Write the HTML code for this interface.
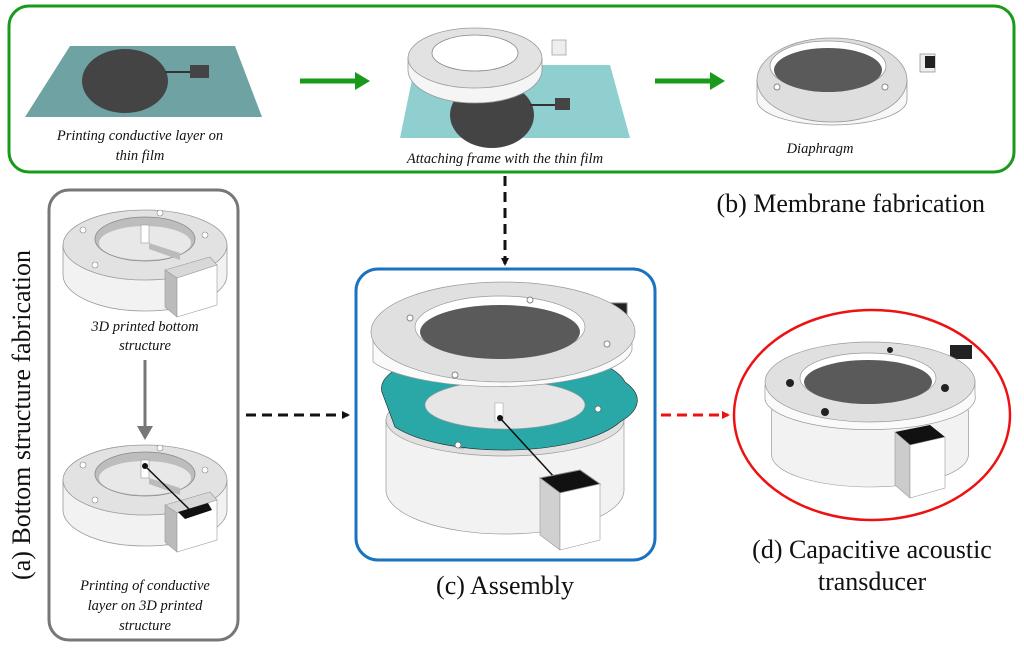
<!DOCTYPE html>
<html><head><meta charset="utf-8"><style>
body{margin:0;background:#fff}
svg{display:block}
text{font-family:"Liberation Serif",serif;fill:#111}
.it{font-style:italic;font-size:14.5px}
.big{font-size:26px}
</style></head><body>
<svg width="1024" height="651" viewBox="0 0 1024 651" xmlns="http://www.w3.org/2000/svg">
<defs>
<marker id="ab" markerWidth="8" markerHeight="8" refX="6" refY="4" orient="auto" markerUnits="userSpaceOnUse"><path d="M0,0 L8,4 L0,8 Z" fill="#111"/></marker>
<marker id="ar" markerWidth="8" markerHeight="8" refX="6" refY="4" orient="auto" markerUnits="userSpaceOnUse"><path d="M0,0 L8,4 L0,8 Z" fill="#e11"/></marker>
<g id="base">
  <path d="M-82,0 L-82,30 A82,36 0 0 0 82,30 L82,0 Z" fill="#f2f2f2" stroke="#999" stroke-width="0.8"/>
  <ellipse cx="0" cy="0" rx="82" ry="35" fill="#e2e2e2" stroke="#999" stroke-width="0.8"/>
  <ellipse cx="0" cy="-6" rx="50" ry="22" fill="#bdbdbd" stroke="#888" stroke-width="0.8"/>
  <ellipse cx="0" cy="-2" rx="46" ry="17" fill="#e8e8e8"/>
  <rect x="-4" y="-20" width="8" height="18" fill="#fff" stroke="#999" stroke-width="0.6"/>
  <polygon points="4,-2 35,8 35,15 4,4" fill="#bbb"/>
  <circle cx="-50" cy="20" r="3" fill="#fff" stroke="#888" stroke-width="0.6"/>
  <circle cx="60" cy="-10" r="3" fill="#fff" stroke="#888" stroke-width="0.6"/>
  <circle cx="-62" cy="-15" r="3" fill="#fff" stroke="#888" stroke-width="0.6"/>
  <circle cx="15" cy="-32" r="3" fill="#fff" stroke="#888" stroke-width="0.6"/>
  <polygon points="20,25 65,12 72,20 32,33" fill="#d8d8d8" stroke="#999" stroke-width="0.6"/>
  <polygon points="20,25 32,33 32,72 20,62" fill="#bbb" stroke="#999" stroke-width="0.6"/>
  <polygon points="32,33 72,20 72,60 32,72" fill="#fff" stroke="#999" stroke-width="0.6"/>
</g>
</defs>

<!-- (b) green box -->
<rect x="9" y="6" width="1005" height="166" rx="20" fill="none" stroke="#1a9a1a" stroke-width="3"/>
<polygon points="70,46 235,46 262,117 25,117" fill="#6fa3a3"/>
<ellipse cx="125" cy="81" rx="43" ry="32" fill="#444"/>
<line x1="165" y1="72" x2="190" y2="72" stroke="#333" stroke-width="2"/>
<rect x="190" y="65" width="19" height="13" fill="#444"/>
<text class="it" x="140" y="140" text-anchor="middle">Printing conductive layer on</text>
<text class="it" x="140" y="160" text-anchor="middle">thin film</text>
<line x1="300" y1="81" x2="358" y2="81" stroke="#1a9a1a" stroke-width="5"/>
<polygon points="355,72 370,81 355,90" fill="#1a9a1a"/>
<polygon points="415,65 610,65 630,138 400,138" fill="#8fcfcf"/>
<ellipse cx="492" cy="115" rx="42" ry="33" fill="#444"/>
<line x1="530" y1="105" x2="555" y2="105" stroke="#333" stroke-width="2"/>
<rect x="555" y="98" width="15" height="12" fill="#444"/>
<rect x="552" y="40" width="14" height="15" fill="#eee" stroke="#999" stroke-width="0.7"/>
<path d="M408,58 L408,70 A67,33 0 0 0 542,70 L542,58 Z" fill="#f5f5f5" stroke="#999" stroke-width="0.8"/>
<ellipse cx="475" cy="58" rx="67" ry="30" fill="#e2e2e2" stroke="#999" stroke-width="0.8"/>
<ellipse cx="475" cy="53" rx="43" ry="18" fill="#fff" stroke="#888" stroke-width="0.8"/>
<text class="it" x="505" y="163" text-anchor="middle">Attaching frame with the thin film</text>
<line x1="655" y1="81" x2="713" y2="81" stroke="#1a9a1a" stroke-width="5"/>
<polygon points="710,72 725,81 710,90" fill="#1a9a1a"/>
<rect x="920" y="54" width="15" height="18" fill="#eee" stroke="#888" stroke-width="0.7"/>
<rect x="925" y="56" width="10" height="12" fill="#222"/>
<path d="M757,80 L757,100 A75,25 0 0 0 907,100 L907,80 Z" fill="#f7f7f7" stroke="#999" stroke-width="0.8"/>
<ellipse cx="832" cy="80" rx="75" ry="42" fill="#dedede" stroke="#999" stroke-width="0.8"/>
<ellipse cx="828" cy="66" rx="58" ry="25" fill="#fff" stroke="#999" stroke-width="0.8"/>
<ellipse cx="828" cy="70" rx="54" ry="22" fill="#5a5a5a"/>
<circle cx="777" cy="87" r="3" fill="#fff" stroke="#888"/>
<circle cx="885" cy="87" r="3" fill="#fff" stroke="#888"/>
<text class="it" x="820" y="153" text-anchor="middle">Diaphragm</text>
<text class="big" x="985" y="212" text-anchor="end">(b) Membrane fabrication</text>

<line x1="505" y1="176" x2="505" y2="264" stroke="#111" stroke-width="3" stroke-dasharray="10,6" marker-end="url(#ab)"/>

<!-- (a) -->
<rect x="49" y="190" width="189" height="450" rx="20" fill="none" stroke="#777" stroke-width="3"/>
<text class="big" transform="translate(30,415) rotate(-90)" text-anchor="middle">(a) Bottom structure  fabrication</text>
<use href="#base" transform="translate(145,245)"/>
<text class="it" x="145" y="331" text-anchor="middle">3D printed bottom</text>
<text class="it" x="145" y="350" text-anchor="middle">structure</text>
<line x1="145" y1="360" x2="145" y2="428" stroke="#777" stroke-width="3"/>
<polygon points="137,426 145,440 153,426" fill="#777"/>
<use href="#base" transform="translate(145,480)"/>
<line x1="145" y1="466" x2="190" y2="510" stroke="#111" stroke-width="1.5"/>
<circle cx="145" cy="466" r="3" fill="#111"/>
<polygon points="178,512 208,503 212,510 185,519" fill="#111"/>
<text class="it" x="145" y="590" text-anchor="middle">Printing of conductive</text>
<text class="it" x="145" y="610" text-anchor="middle">layer on 3D printed</text>
<text class="it" x="145" y="630" text-anchor="middle">structure</text>

<line x1="246" y1="415" x2="348" y2="415" stroke="#111" stroke-width="3" stroke-dasharray="10,6" marker-end="url(#ab)"/>

<!-- (c) -->
<rect x="356" y="269" width="299" height="291" rx="22" fill="none" stroke="#1a72c0" stroke-width="3"/>
<path d="M386,420 L386,490 A119,44 0 0 0 624,490 L624,420 Z" fill="#f2f2f2" stroke="#999" stroke-width="0.7"/>
<ellipse cx="505" cy="420" rx="119" ry="36" fill="#e0e0e0" stroke="#999" stroke-width="0.7"/>
<circle cx="462" cy="446" r="3" fill="#fff" stroke="#888" stroke-width="0.6"/>
<path d="M383,395 A120,40 0 0 1 625,382 A122,42 0 0 1 620,422 A125,45 0 0 1 395,427 Z" fill="#2aa8a8" stroke="#222" stroke-width="0.6"/>
<ellipse cx="505" cy="405" rx="80" ry="24" fill="#e6e6e6" stroke="#999" stroke-width="0.6"/>
<rect x="495" y="403" width="8" height="18" fill="#fff" stroke="#999" stroke-width="0.5"/>
<circle cx="500" cy="418" r="3" fill="#111"/>
<circle cx="458" cy="445" r="3" fill="#fff" stroke="#555" stroke-width="0.6"/>
<circle cx="598" cy="409" r="3" fill="#fff" stroke="#555" stroke-width="0.6"/>
<line x1="500" y1="418" x2="555" y2="478" stroke="#111" stroke-width="1.5"/>
<polygon points="540,478 580,470 600,484 560,493" fill="#111" stroke="#888"/>
<polygon points="540,478 560,493 560,550 540,535" fill="#d0d0d0" stroke="#999" stroke-width="0.6"/>
<polygon points="560,493 600,484 600,540 560,550" fill="#fff" stroke="#999" stroke-width="0.6"/>
<rect x="597" y="303" width="30" height="15" fill="#222" stroke="#888"/>
<path d="M373,335 L373,362 A135,40 0 0 0 632,350 L632,325 Z" fill="#fafafa" stroke="#999" stroke-width="0.7"/>
<ellipse cx="503" cy="332" rx="132" ry="50" fill="#e0e0e0" stroke="#999" stroke-width="0.7"/>
<ellipse cx="500" cy="327" rx="85" ry="31" fill="#fff" stroke="#999" stroke-width="0.7"/>
<ellipse cx="500" cy="332" rx="80" ry="27" fill="#5a5a5a"/>
<circle cx="410" cy="318" r="3" fill="#fff" stroke="#888"/>
<circle cx="455" cy="375" r="3" fill="#fff" stroke="#888"/>
<circle cx="607" cy="344" r="3" fill="#fff" stroke="#888"/>
<circle cx="530" cy="300" r="3" fill="#fff" stroke="#888"/>
<text class="big" x="505" y="594" text-anchor="middle">(c) Assembly</text>

<line x1="661" y1="415" x2="728" y2="415" stroke="#e11" stroke-width="3" stroke-dasharray="10,6" marker-end="url(#ar)"/>

<!-- (d) -->
<ellipse cx="872" cy="415" rx="138" ry="105" fill="none" stroke="#e11" stroke-width="2.5"/>
<g transform="translate(870,410) scale(1.2,1)">
  <path d="M-82,0 L-82,45 A82,32 0 0 0 82,45 L82,0 Z" fill="#f2f2f2" stroke="#999" stroke-width="0.6"/>
</g>
<rect x="950" y="345" width="22" height="14" fill="#222"/>
<path d="M765,385 L765,400 A105,32 0 0 0 975,395 L975,380 Z" fill="#fafafa" stroke="#999" stroke-width="0.7"/>
<ellipse cx="870" cy="382" rx="105" ry="40" fill="#e0e0e0" stroke="#999" stroke-width="0.7"/>
<ellipse cx="868" cy="378" rx="68" ry="25" fill="#fff" stroke="#999" stroke-width="0.7"/>
<ellipse cx="868" cy="382" rx="64" ry="22" fill="#5a5a5a"/>
<circle cx="790" cy="383" r="4" fill="#222"/>
<circle cx="825" cy="412" r="4" fill="#222"/>
<circle cx="945" cy="388" r="4" fill="#222"/>
<circle cx="890" cy="350" r="3" fill="#222"/>
<polygon points="895,432 930,425 945,437 910,445" fill="#111"/>
<polygon points="895,432 910,445 910,498 895,485" fill="#ccc" stroke="#999" stroke-width="0.6"/>
<polygon points="910,445 945,437 945,488 910,498" fill="#fff" stroke="#999" stroke-width="0.6"/>
<text class="big" x="872" y="558" text-anchor="middle">(d) Capacitive acoustic</text>
<text class="big" x="872" y="590" text-anchor="middle">transducer</text>
</svg>
</body></html>
